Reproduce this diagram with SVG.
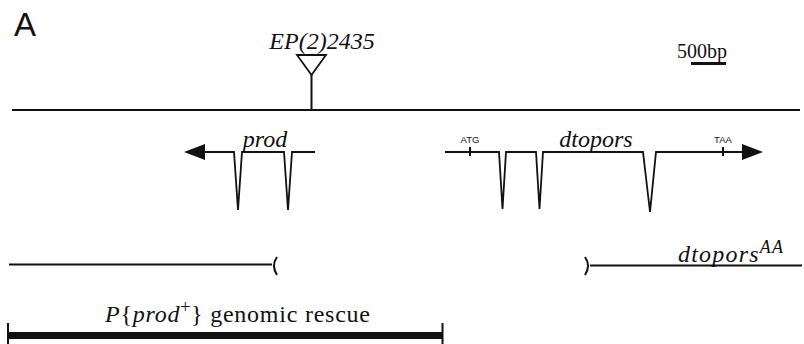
<svg xmlns="http://www.w3.org/2000/svg" width="804" height="344" viewBox="0 0 804 344">
  <defs>
    <style>
      .ln { stroke: #111; stroke-width: 2; fill: none; }
      .intron { stroke: #111; stroke-width: 1.8; fill: none; stroke-linejoin: miter; }
      text { fill: #111; }
      .rm { font-family: 'Liberation Serif', 'Times New Roman', Times, serif; }
      .ss { font-family: 'Liberation Sans', Arial, sans-serif; }
    </style>
  </defs>
  <rect width="804" height="344" fill="#fff"/>

  <!-- panel letter -->
  <text class="ss" x="14" y="36" font-size="33">A</text>

  <!-- scale bar -->
  <g id="scale">
    <text class="rm" x="677" y="58" font-size="20">500bp</text>
    <rect x="691" y="62" width="35" height="3" fill="#111"/>
  </g>

  <!-- genomic locus -->
  <g id="locus">
    <line class="ln" x1="12" y1="110" x2="800" y2="110"/>
  </g>

  <!-- P-element insertion -->
  <g id="insertion">
    <text class="rm" font-style="italic" x="322" y="49" font-size="24" text-anchor="middle">EP(2)2435</text>
    <polygon points="297,55 326,55 311.5,75" fill="#fff" stroke="#111" stroke-width="1.8"/>
    <line class="ln" x1="311.5" y1="75" x2="311.5" y2="110"/>
  </g>

  <!-- prod gene (reverse strand) -->
  <g id="prod">
    <text class="rm" font-style="italic" x="265" y="147" font-size="24" text-anchor="middle">prod</text>
    <polyline class="intron" points="315,152 292,152 288,210 284,152 242,152 238,210 234,152 203,152"/>
    <polygon points="184,152 205,144 205,160" fill="#111"/>
  </g>

  <!-- dtopors gene (forward strand) -->
  <g id="dtopors">
    <text class="rm" font-style="italic" x="596" y="147" font-size="24" text-anchor="middle">dtopors</text>
    <text class="ss" x="470" y="143" font-size="9.5" text-anchor="middle">ATG</text>
    <text class="ss" x="723" y="143" font-size="9.5" text-anchor="middle">TAA</text>
    <polyline class="intron" points="445,152 499,152 502.5,209 506,152 536,152 539.5,209 543,152 643,152 650,212 656,152 745,152"/>
    <line class="ln" x1="470" y1="147" x2="470" y2="156" stroke-width="1.2"/>
    <line class="ln" x1="723" y1="147" x2="723" y2="156" stroke-width="1.2"/>
    <polygon points="763,152 742,144 742,160" fill="#111"/>
  </g>

  <!-- dtopors AA deletion allele -->
  <g id="deletion">
    <line class="ln" x1="9" y1="264.5" x2="272" y2="264.5"/>
    <path class="ln" d="M277,257 Q271,265.5 277,275" stroke-width="1.8"/>
    <path class="ln" d="M585,257 Q591,265.5 585,275" stroke-width="1.8"/>
    <line class="ln" x1="590" y1="265.5" x2="802" y2="265.5"/>
    <text class="rm" font-style="italic" x="678" y="262" font-size="24" textLength="105" lengthAdjust="spacing">dtopors<tspan dy="-9" font-size="18">AA</tspan></text>
  </g>

  <!-- genomic rescue construct -->
  <g id="rescue">
    <text class="rm" x="105" y="322" font-size="24" textLength="265" lengthAdjust="spacing"><tspan font-style="italic">P</tspan>{<tspan font-style="italic">prod</tspan><tspan dy="-9" font-size="18">+</tspan><tspan dy="9">}</tspan> genomic rescue</text>
    <rect x="7" y="332" width="436" height="7" fill="#111"/>
    <line class="ln" x1="8" y1="323" x2="8" y2="344"/>
    <line class="ln" x1="442.5" y1="323" x2="442.5" y2="344"/>
  </g>
</svg>
